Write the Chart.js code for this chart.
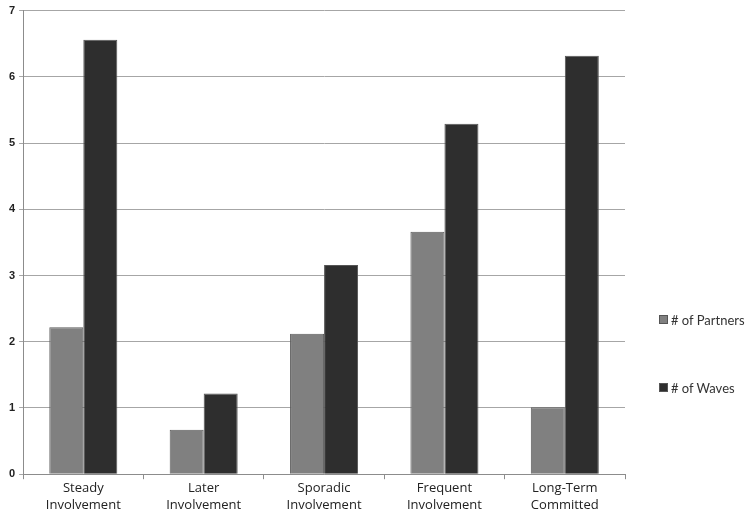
<!DOCTYPE html>
<html>
<head>
<meta charset="utf-8">
<script src="https://cdn.jsdelivr.net/npm/chart.js@4/dist/chart.umd.min.js"></script>
<style>
  body { margin: 0; background: #fff; }
  #wrap { position: relative; width: 750px; height: 517px; }
  #legend { position: absolute; left: 659px; top: 312px; font-family: Lato, "Liberation Sans", sans-serif; font-size: 13px; color: #333; white-space: nowrap; }
  #legend div { height: 68px; display: flex; align-items: flex-start; }
  #legend span.box { display: inline-block; width: 9px; height: 9px; margin: 3px 3px 0 0; border: 1px solid #555; box-sizing: border-box; }
</style>
</head>
<body>
<div id="wrap">
  <canvas id="grafica" width="750" height="517"></canvas>
  <div id="legend"></div>
</div>
<script>
// datos
const categorias = [["Steady", "Involvement"], ["Later", "Involvement"], ["Sporadic", "Involvement"], ["Frequent", "Involvement"], ["Long-Term", "Committed"]];
const parejas = [2.22, 0.67, 2.12, 3.66, 1.01];
const olas = [6.56, 1.22, 3.16, 5.29, 6.32];
const nombres = ["# of Partners", "# of Waves"];
const colores = ["#808080", "#2e2e2e"];

const ctx = document.getElementById("grafica");

const config = {
  type: "bar",
  data: {
    labels: categorias,
    datasets: [
      { label: nombres[0], data: parejas, backgroundColor: colores[0], borderColor: "#5c5c5c", borderWidth: 1 },
      { label: nombres[1], data: olas, backgroundColor: colores[1], borderColor: "#555", borderWidth: 1 }
    ]
  },
  options: {
    responsive: false,
    animation: false,
    layout: { padding: { left: 5, right: 125, top: 4, bottom: 2 } },
    plugins: { legend: { display: false }, tooltip: { enabled: false } },
    datasets: { bar: { categoryPercentage: 0.565, barPercentage: 1 } },
    scales: {
      x: {
        grid: { offset: true, drawOnChartArea: false, drawTicks: true, tickLength: 5, color: "#8c8c8c" },
        border: { color: "#8c8c8c" },
        ticks: { color: "#222", font: { family: "Open Sans", size: 13, lineHeight: 1.3 }, padding: 1, maxRotation: 0 }
      },
      y: {
        min: 0, max: 7,
        ticks: { stepSize: 1, color: "#222", font: { family: "Liberation Sans", size: 11, weight: "bold" }, padding: 4 },
        grid: { color: "#a6a6a6", tickLength: 4 },
        border: { color: "#8c8c8c" }
      }
    }
  }
};

new Chart(ctx, config);

// leyenda a la derecha
const leyenda = document.getElementById("legend");
nombres.forEach(function (n, i) {
  leyenda.innerHTML += `<div><span class="box" style="background:${colores[i]}"></span>${n}</div>`;
});
</script>
</body>
</html>
